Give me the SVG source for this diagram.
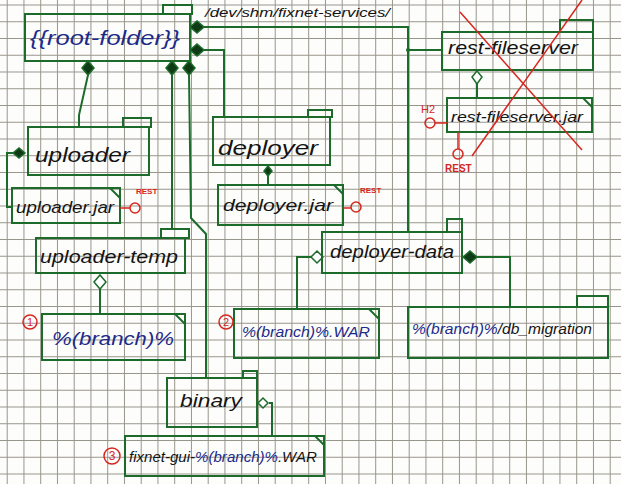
<svg xmlns="http://www.w3.org/2000/svg" width="621" height="484" viewBox="0 0 621 484">
<defs>
<pattern id="grid" x="6.7" y="4.5" width="16.75" height="16.75" patternUnits="userSpaceOnUse">
<path d="M0 0.5H16.75M0.5 0V16.75" fill="none" stroke="#97948a" stroke-width="1"/>
</pattern>
<style>
.box{fill:none;stroke:#1d6b2b;stroke-width:2}
.ln{fill:none;stroke:#1d6b2b;stroke-width:2}
.df{fill:#0f3a16;stroke:#1d6b2b;stroke-width:1.5}
.dh{fill:#fff;stroke:#1d6b2b;stroke-width:1.5}
.red{fill:none;stroke:#d7261e;stroke-width:1.5}
.rt{font-family:"Liberation Sans",sans-serif;font-weight:bold;fill:#d7261e;font-size:8px}
.t{font-family:"Liberation Sans",sans-serif;font-style:italic;fill:#141414}
.b{fill:#1c2a8a}
.num{font-family:"Liberation Sans",sans-serif;fill:#d7261e;font-size:11px;text-anchor:middle}
</style>
</defs>
<rect width="621" height="484" fill="#fdfdfb"/>
<rect width="621" height="484" fill="url(#grid)"/>

<g id="connectors">
<polyline class="ln" points="203,27 408,27 408,232"/>
<line class="ln" x1="408" y1="50" x2="442" y2="50"/>
<circle cx="408" cy="50" r="2" fill="#1d6b2b"/>
<polyline class="ln" points="203,50 224,50 224,117"/>
<polyline class="ln" points="88,75 79,115 79,127"/>
<line class="ln" x1="172" y1="75" x2="172" y2="228"/>
<polyline class="ln" points="189,75 191,218 206,234 206,378"/>
<polyline class="ln" points="13,153 7,153 7,207 12,207"/>
<line class="ln" x1="100" y1="288" x2="100" y2="314"/>
<line class="ln" x1="268" y1="172" x2="268" y2="186"/>
<polyline class="ln" points="312,257 297,257 297,309"/>
<polyline class="ln" points="475,257 510,257 510,307"/>
<line class="ln" x1="477" y1="84" x2="477" y2="98"/>
<polyline class="ln" points="269,403 272,403 272,436"/>
<polygon class="df" points="190,27 197,21 204,27 197,33"/>
<polygon class="df" points="190,50 197,44 204,50 197,56"/>
<polygon class="df" points="88,61 94,68 88,75 82,68"/>
<polygon class="df" points="172,61 178,68 172,75 166,68"/>
<polygon class="df" points="189,61 195,68 189,75 183,68"/>
<polygon class="df" points="13,153 19,148 25,153 19,158"/>
<polygon class="df" points="268,166 272,171 268,176 264,171"/>
<polygon class="df" points="463,257 470,251 477,257 470,263"/>
<polygon class="dh" points="100,275 106,282 100,289 94,282"/>
<polygon class="dh" points="311,257 317,251 323,257 317,263"/>
<polygon class="dh" points="477,71 482,77 477,84 472,77"/>
<polygon class="dh" points="258,403 263,398 268,403 263,408"/>
</g>

<text class="t" x="205" y="17" font-size="13" textLength="185" lengthAdjust="spacingAndGlyphs">/dev/shm/fixnet-services/</text>

<g id="root-folder">
<rect class="box" x="25" y="14" width="165" height="47"/>
<rect class="box" x="163" y="5" width="29" height="9"/>
<text class="t b" x="30" y="45" font-size="21" textLength="150" lengthAdjust="spacingAndGlyphs">{{root-folder}}</text>
</g>

<g id="uploader">
<rect class="box" x="28" y="127" width="121" height="48"/>
<rect class="box" x="123" y="118" width="28" height="9"/>
<text class="t" x="35" y="162" font-size="21" textLength="95" lengthAdjust="spacingAndGlyphs">uploader</text>
</g>

<g id="uploader-jar">
<rect class="box" x="12" y="188" width="108" height="35"/>
<path class="ln" d="M110,188 L120,198"/>
<line class="red" x1="120" y1="208" x2="130" y2="208"/>
<circle class="red" cx="135" cy="208" r="5" fill="#fff"/>
<text class="rt" x="136" y="194">REST</text>
<text class="t" x="16" y="213" font-size="17" textLength="98" lengthAdjust="spacingAndGlyphs">uploader.jar</text>
</g>

<g id="uploader-temp">
<rect class="box" x="36" y="238" width="149" height="35"/>
<rect class="box" x="161" y="229" width="28" height="9"/>
<text class="t" x="40" y="263" font-size="18" textLength="138" lengthAdjust="spacingAndGlyphs">uploader-temp</text>
</g>

<g id="branch">
<rect class="box" x="42" y="314" width="143" height="46"/>
<path class="ln" d="M175,314 L185,324"/>
<circle class="red" cx="30" cy="322" r="7"/>
<text class="num" x="30" y="326">1</text>
<text class="t b" x="52" y="345" font-size="18" textLength="122" lengthAdjust="spacingAndGlyphs">%(branch)%</text>
</g>

<g id="deployer">
<rect class="box" x="213" y="117" width="117" height="48"/>
<rect class="box" x="308" y="110" width="24" height="7"/>
<text class="t" x="218" y="155" font-size="21" textLength="100" lengthAdjust="spacingAndGlyphs">deployer</text>
</g>

<g id="deployer-jar">
<rect class="box" x="218" y="185" width="125" height="40"/>
<path class="ln" d="M334,185 L343,194"/>
<line class="red" x1="343" y1="208" x2="351" y2="208"/>
<circle class="red" cx="356" cy="207" r="5" fill="#fff"/>
<text class="rt" x="360" y="193">REST</text>
<text class="t" x="223" y="211" font-size="17" textLength="110" lengthAdjust="spacingAndGlyphs">deployer.jar</text>
</g>

<g id="deployer-data">
<rect class="box" x="322" y="232" width="140" height="41"/>
<rect class="box" x="447" y="219" width="15" height="13"/>
<text class="t" x="330" y="258" font-size="18" textLength="124" lengthAdjust="spacingAndGlyphs">deployer-data</text>
</g>

<g id="branch-war">
<rect class="box" x="234" y="309" width="145" height="49"/>
<path class="ln" d="M369,309 L379,319"/>
<circle class="red" cx="226" cy="322" r="7"/>
<text class="num" x="226" y="326">2</text>
<text class="t b" x="242" y="337" font-size="15" textLength="128" lengthAdjust="spacingAndGlyphs">%(branch)%.WAR</text>
</g>

<g id="db-migration">
<rect class="box" x="408" y="307" width="200" height="51"/>
<rect class="box" x="577" y="296" width="31" height="11"/>
<text class="t" x="412" y="334" font-size="14" textLength="180" lengthAdjust="spacingAndGlyphs"><tspan class="b">%(branch)%</tspan>/db_migration</text>
</g>

<g id="rest-fileserver">
<rect class="box" x="442" y="32" width="151" height="38"/>
<rect class="box" x="560" y="20" width="33" height="12"/>
<text class="t" x="448" y="54" font-size="18" textLength="130" lengthAdjust="spacingAndGlyphs">rest-fileserver</text>
</g>

<g id="rest-fileserver-jar">
<rect class="box" x="447" y="98" width="145" height="34"/>
<path class="ln" d="M583,98 L592,107"/>
<line class="red" x1="435" y1="123" x2="447" y2="123"/>
<circle class="red" cx="430" cy="123" r="5" fill="#fff"/>
<text x="421" y="113" style="font-family:'Liberation Sans',sans-serif;font-size:11px;fill:#d7261e">H2</text>
<line class="red" x1="458" y1="132" x2="458" y2="149"/>
<circle class="red" cx="458" cy="154" r="5" fill="#fff"/>
<text class="rt" x="445" y="172" style="font-size:10px">REST</text>
<text class="t" x="451" y="122" font-size="14" textLength="132" lengthAdjust="spacingAndGlyphs">rest-fileserver.jar</text>
</g>

<g id="cross-out">
<line class="red" x1="460" y1="12" x2="582" y2="150"/>
<line class="red" x1="582" y1="0" x2="472" y2="156"/>
</g>

<g id="binary">
<rect class="box" x="167" y="378" width="90" height="49"/>
<rect class="box" x="243" y="371" width="14" height="7"/>
<text class="t" x="180" y="407" font-size="19" textLength="62" lengthAdjust="spacingAndGlyphs">binary</text>
</g>

<g id="fixnet-gui">
<rect class="box" x="125" y="436" width="199" height="40"/>
<path class="ln" d="M315,436 L324,445"/>
<circle class="red" cx="112" cy="456" r="8"/>
<text class="num" x="112" y="460" style="font-size:12px">3</text>
<text class="t" x="129" y="462" font-size="15" textLength="188" lengthAdjust="spacingAndGlyphs">fixnet-gui-<tspan class="b">%(branch)%</tspan>.WAR</text>
</g>
</svg>
